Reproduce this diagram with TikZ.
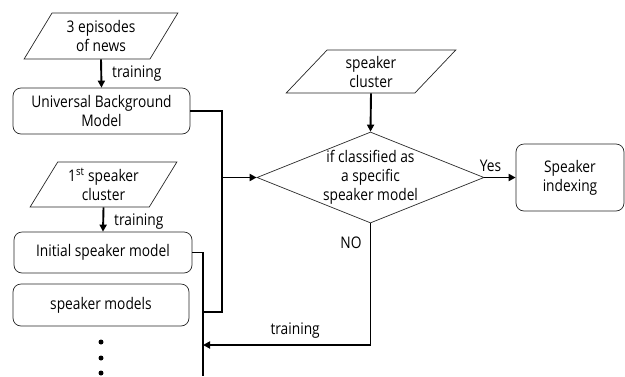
\documentclass[tikz,border=0pt]{standalone}
\usepackage{fontspec}
\setmainfont[FakeStretch=0.86]{Open Sans}
\usetikzlibrary{shapes.geometric,arrows.meta}
\begin{document}
\begin{tikzpicture}[x=1pt,y=-1pt,
  every node/.style={font=\fontsize{16}{19}\selectfont},
  box/.style={draw=black!85,line width=0.7pt,rounded corners=8pt,align=center,inner sep=0pt},
  para/.style={draw=black!85,line width=0.7pt,shape=trapezium,trapezium stretches=true,align=center,inner sep=0pt},
  dec/.style={draw=black!85,line width=0.7pt,shape=diamond,aspect=2.5,inner sep=0pt},
  conn/.style={line width=1.9pt},
  arr/.style={conn,-{Triangle[length=7pt,width=7pt]}},
  lbl/.style={inner sep=1pt}]
\useasboundingbox (0,0) rectangle (625,376);
% left column
\node[para,trapezium left angle=58,trapezium right angle=122,minimum width=154,minimum height=46] (p1) at (101,36) {3 episodes\\of news};
\node[box,minimum width=177,minimum height=46] (ubm) at (101.5,111) {Universal Background\\Model};
\node[para,trapezium left angle=57,trapezium right angle=123,minimum width=147,minimum height=45] (p2) at (103.5,184.5) {1\textsuperscript{st} speaker\\cluster};
\node[box,minimum width=178,minimum height=41] (init) at (103,252.5) {Initial speaker model};
\node[box,minimum width=176,minimum height=42] (sm) at (101,305) {speaker models};
\foreach \i/\yy in {1/342,2/358,3/373}
  \node[circle,fill=black,inner sep=0pt,minimum size=5pt] (d\i) at (101,\yy) {};
% right part
\node[para,trapezium left angle=53,trapezium right angle=127,minimum width=170,minimum height=43] (sc) at (371,71.5) {speaker\\cluster};
\node[dec,minimum width=227,minimum height=91] (dia) at (370.5,177.5) {};
\node[align=center,inner sep=0pt] (diatext) at (dia.center) {if classified as\\a specific\\speaker model};
\node[box,minimum width=108,minimum height=67] (si) at (570,177.5) {Speaker\\indexing};
% coordinates
\coordinate (j1) at (222,177.5);
\coordinate (j2) at (222,312);
\coordinate (j3) at (203,312);
\coordinate (bot) at (203,376);
\coordinate (nob) at (370.5,345);
\coordinate (back) at (203,345);
% connectors
\draw[arr] (p1.south) -- node[lbl,right,xshift=9pt] {training} (ubm.north);
\draw[arr] (p2.south) -- node[lbl,right,xshift=9pt,yshift=-2pt] {training} (init.north);
\draw[conn] (ubm.east) -| (j1);
\draw[arr] (j1) -- (dia.west);
\draw[conn] (j1) -- (j2) -- (j3);
\draw[conn] (init.east) -| (bot);
\draw[arr] (sc.south) -- (dia.north);
\draw[arr] (dia.east) -- node[lbl,above,pos=0.2,yshift=4pt] {Yes} (si.west);
\draw[arr] (dia.south) -- (nob) -- node[lbl,above,pos=0.45,yshift=5pt] {training} (back);
\node[lbl] (no) at (351,243) {NO};
\end{tikzpicture}
\end{document}
